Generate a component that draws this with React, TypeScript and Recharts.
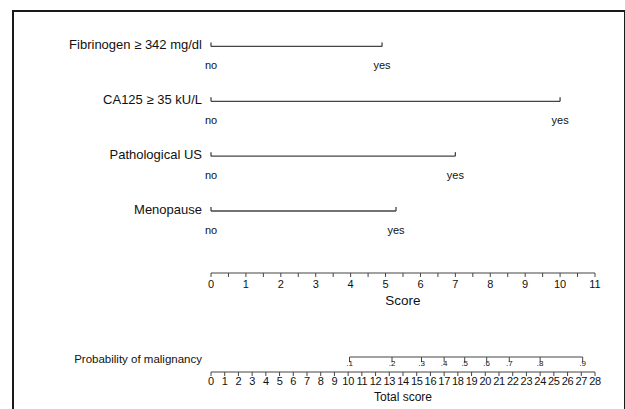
import { ComposedChart, Line, XAxis, YAxis } from 'recharts';

// nomogram points per predictor (score at "yes", "no" = 0)
const predictors = ['Fibrinogen ≥ 342 mg/dl', 'CA125 ≥ 35 kU/L', 'Pathological US', 'Menopause'];
const yesPoints = [4.9, 10, 7, 5.3];
const levelLabels = ['no', 'yes'];

const scoreTicks = [0, 0.5, 1, 1.5, 2, 2.5, 3, 3.5, 4, 4.5, 5, 5.5, 6, 6.5, 7, 7.5, 8, 8.5, 9, 9.5, 10, 10.5, 11];
const totalTicks = [0, 1, 2, 3, 4, 5, 6, 7, 8, 9, 10, 11, 12, 13, 14, 15, 16, 17, 18, 19, 20, 21, 22, 23, 24, 25, 26, 27, 28];

// probability of malignancy vs total score
const probLabels = ['.1', '.2', '.3', '.4', '.5', '.6', '.7', '.8', '.9'];
const probTotals = [10.1, 13.2, 15.35, 17.0, 18.5, 20.1, 21.75, 24.0, 27.1];

const FONT = '"Liberation Sans", Arial, Helvetica, sans-serif';
const INK = '#111';
const LINE = '#444';

const W = 625;
const LEFT = 211;
const RIGHT = 30;

const varDot = (props: any) => {
  const { cx, cy, index, payload } = props;
  return (
    <g key={`d-${payload.row}-${index}`}>
      <line x1={cx} y1={cy} x2={cx} y2={cy - 4} stroke={LINE} strokeWidth={1.3} />
      <text x={cx} y={cy + 23} textAnchor="middle" fontSize={11} fill={INK} fontFamily={FONT}>
        {payload.label}
      </text>
    </g>
  );
};

const probDot = (props: any) => {
  const { cx, cy, index, payload } = props;
  return (
    <g key={`p-${index}`}>
      <line x1={cx} y1={cy} x2={cx} y2={cy + 5} stroke={LINE} strokeWidth={1} />
      <text x={cx} y={cy + 9} textAnchor="middle" fontSize={8} fill={INK} fontFamily={FONT}>
        {payload.label}
      </text>
    </g>
  );
};

export default function App() {
  const rows = predictors.map((name, i) => ({
    name,
    data: [
      { x: 0, y: i, row: i, label: levelLabels[0] },
      { x: yesPoints[i], y: i, row: i, label: levelLabels[1] },
    ],
  }));
  const probData = probTotals.map((t, i) => ({ x: t, y: 0, label: probLabels[i] }));

  return (
    <div style={{ position: 'relative', width: W, height: 409, overflow: 'hidden', background: '#fff' }}>
      <style>{'body{margin:0}'}</style>
      <div
        style={{
          position: 'absolute',
          left: 12,
          top: 10,
          width: 610,
          height: 430,
          border: '2px solid #1a1a1a',
        }}
      />
      <div style={{ position: 'absolute', left: 0, top: 0 }}>
        <ComposedChart width={W} height={320} margin={{ top: 19, right: RIGHT, bottom: 0, left: 0 }}>
          <XAxis
            type="number"
            dataKey="x"
            domain={[0, 11]}
            ticks={scoreTicks}
            interval={0}
            height={47}
            tickSize={4}
            tickMargin={3}
            stroke={LINE}
            tick={{ fontSize: 11, fill: INK, fontFamily: FONT }}
            tickFormatter={(v: number) => (Number.isInteger(v) ? String(v) : '')}
            label={{ value: 'Score', position: 'insideBottom', offset: 15, fontSize: 13.5, fill: INK, fontFamily: FONT }}
          />
          <YAxis
            type="number"
            dataKey="y"
            domain={[-0.5, 4.13]}
            reversed
            ticks={[0, 1, 2, 3]}
            interval={0}
            width={LEFT}
            axisLine={false}
            tickLine={false}
            tickSize={0}
            tickMargin={9}
            tick={{ fontSize: 13, fill: INK, fontFamily: FONT, dy: -2 }}
            tickFormatter={(v: number) => predictors[v] ?? ''}
          />
          {rows.map((r) => (
            <Line
              key={r.name}
              data={r.data}
              dataKey="y"
              type="linear"
              stroke={LINE}
              strokeWidth={1.3}
              dot={varDot}
              activeDot={false}
              isAnimationActive={false}
            />
          ))}
        </ComposedChart>
      </div>
      <div style={{ position: 'absolute', left: 0, top: 318 }}>
        <ComposedChart width={W} height={91} margin={{ top: 24, right: RIGHT, bottom: 0, left: 0 }}>
          <XAxis
            type="number"
            dataKey="x"
            domain={[0, 28]}
            ticks={totalTicks}
            interval={0}
            height={37}
            tickSize={4}
            tickMargin={1}
            stroke={LINE}
            tick={{ fontSize: 11, fill: INK, fontFamily: FONT, letterSpacing: -0.3 }}
            label={{ value: 'Total score', position: 'insideBottom', offset: 8, fontSize: 12, fill: INK, fontFamily: FONT }}
          />
          <YAxis
            type="number"
            dataKey="y"
            domain={[-1, 1]}
            ticks={[0]}
            width={LEFT}
            axisLine={false}
            tickLine={false}
            tickSize={0}
            tickMargin={9}
            tick={{ fontSize: 11.5, fill: INK, fontFamily: FONT, dy: 2 }}
            tickFormatter={() => 'Probability of malignancy'}
          />
          <Line
            data={probData}
            dataKey="y"
            type="linear"
            stroke={LINE}
            strokeWidth={1}
            dot={probDot}
            activeDot={false}
            isAnimationActive={false}
          />
        </ComposedChart>
      </div>
    </div>
  );
}
